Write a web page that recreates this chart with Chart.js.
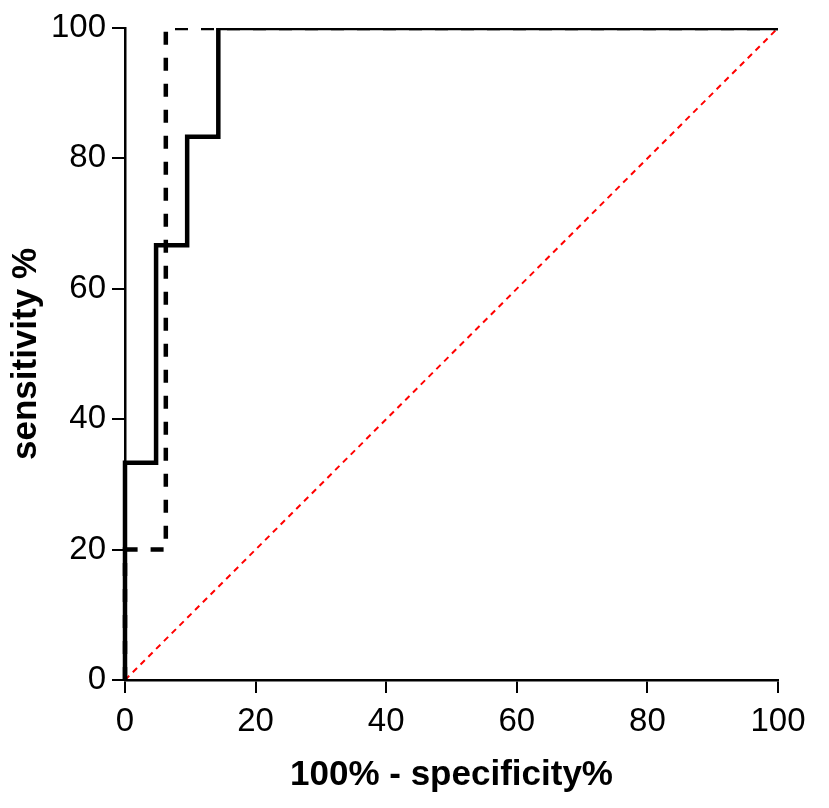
<!DOCTYPE html>
<html>
<head>
<meta charset="utf-8">
<script src="https://cdn.jsdelivr.net/npm/chart.js@4/dist/chart.umd.min.js"></script>
<style>
  body { margin: 0; background: #fff; }
  #wrap { width: 829px; height: 808px; }
</style>
</head>
<body>
<div id="wrap"><canvas id="rocChart" width="829" height="808"></canvas></div>
<script>
// ROC data
const fprSolid = [0, 0, 4.76, 4.76, 9.52, 9.52, 14.29, 14.29, 100];
const sensSolid = [0, 33.33, 33.33, 66.67, 66.67, 83.33, 83.33, 100, 100];
const fprDashed = [0, 0, 6.25, 6.25, 100];
const sensDashed = [0, 20, 20, 100, 100];
const fprChance = [0, 100];
const sensChance = [0, 100];
const xTicks = [0, 20, 40, 60, 80, 100];
const yTicks = [0, 20, 40, 60, 80, 100];

function toPoints(xs, ys) {
    return xs.map((x, i) => ({ x: x, y: ys[i] }));
}

const tickFont = { family: 'Liberation Sans', size: 33 };
const titleFont = { family: 'Liberation Sans', size: 35, weight: 'bold' };

const ctx = document.getElementById('rocChart').getContext('2d');
new Chart(ctx, {
    type: 'line',
    data: {
        datasets: [
            {
                label: 'solid',
                data: toPoints(fprSolid, sensSolid),
                borderColor: '#000',
                borderWidth: 4.5,
                pointRadius: 0,
                borderJoinStyle: 'miter',
                clip: { left: 5, top: 0, right: 5, bottom: 5 }
            },
            {
                label: 'dashed',
                data: toPoints(fprDashed, sensDashed),
                borderColor: '#000',
                borderWidth: 4.5,
                borderDash: [13, 13],
                pointRadius: 0,
                borderJoinStyle: 'miter',
                clip: { left: 5, top: 0, right: 5, bottom: 5 }
            },
            {
                label: 'chance',
                data: toPoints(fprChance, sensChance),
                borderColor: '#ff0000',
                borderWidth: 2,
                borderDash: [6, 5],
                pointRadius: 0
            }
        ]
    },
    options: {
        responsive: false,
        animation: false,
        layout: { padding: { left: 0, top: 28, right: 51, bottom: 0 } },
        plugins: { legend: { display: false }, tooltip: { enabled: false } },
        scales: {
            x: {
                type: 'linear',
                min: 0,
                max: 100,
                afterBuildTicks: (scale) => { scale.ticks = xTicks.map(v => ({ value: v })); },
                afterFit: (scale) => { scale.height = 128; },
                ticks: { font: tickFont, color: '#000', padding: 9, maxRotation: 0 },
                grid: { drawOnChartArea: false, drawTicks: true, tickLength: 13, color: '#000', lineWidth: 2 },
                border: { display: true, color: '#000', width: 2.5 },
                title: { display: true, text: '100% - specificity%', font: titleFont, color: '#000', padding: { top: 0, bottom: 12 } }
            },
            y: {
                type: 'linear',
                min: 0,
                max: 100,
                afterBuildTicks: (scale) => { scale.ticks = yTicks.map(v => ({ value: v })); },
                afterFit: (scale) => { scale.width = 125; },
                ticks: { font: tickFont, color: '#000', padding: 6 },
                grid: { drawOnChartArea: false, drawTicks: true, tickLength: 13, color: '#000', lineWidth: 2 },
                border: { display: true, color: '#000', width: 2.5 },
                title: { display: true, text: 'sensitivity %', font: titleFont, color: '#000', padding: { top: 5, bottom: 0 } }
            }
        }
    }
});
</script>
</body>
</html>
